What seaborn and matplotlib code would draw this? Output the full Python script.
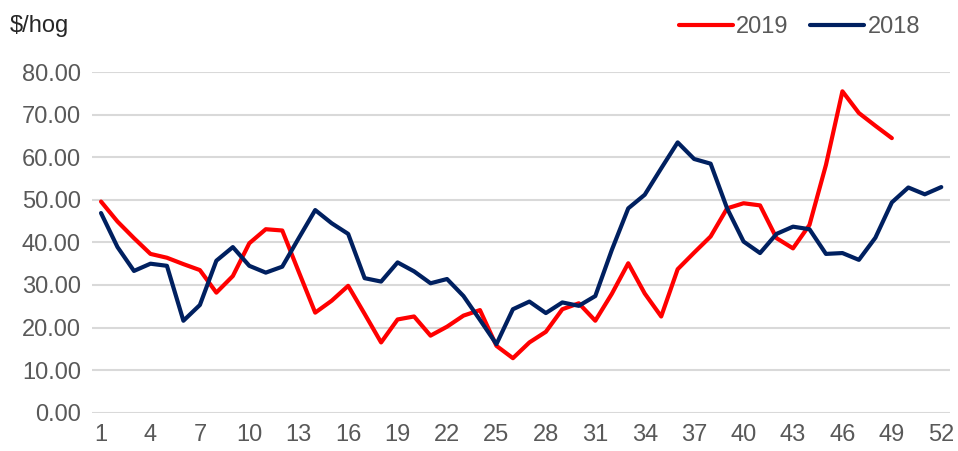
import pandas as pd
import seaborn as sns
import matplotlib.pyplot as plt

weeks = list(range(1, 53))
hog_2019 = [49.6, 44.9, 41.0, 37.3, 36.4, 34.9, 33.5, 28.2, 32.1, 39.8,
            43.1, 42.8, 33.1, 23.5, 26.3, 29.8, 23.2, 16.5, 21.9, 22.6,
            18.1, 20.2, 22.8, 24.1, 15.7, 12.8, 16.5, 19.0, 24.3, 25.7,
            21.6, 27.9, 35.1, 28.0, 22.6, 33.7, 37.6, 41.4, 48.0, 49.2,
            48.7, 41.0, 38.6, 44.1, 58.2, 75.5, 70.4, 67.4, 64.5]
hog_2018 = [46.9, 38.9, 33.3, 35.0, 34.5, 21.6, 25.3, 35.7, 38.9, 34.5,
            32.9, 34.3, 41.0, 47.6, 44.5, 42.0, 31.6, 30.8, 35.3, 33.2,
            30.4, 31.4, 27.4, 21.8, 16.1, 24.3, 26.1, 23.4, 25.9, 25.1,
            27.4, 38.2, 48.0, 51.2, 57.4, 63.5, 59.6, 58.5, 48.0, 40.2,
            37.5, 42.0, 43.7, 43.1, 37.3, 37.5, 35.9, 41.1, 49.4, 52.9,
            51.3, 53.0]
xticks = list(range(1, 53, 3))

df = pd.concat([
    pd.DataFrame({"week": weeks[:len(hog_2019)], "price": hog_2019, "year": "2019"}),
    pd.DataFrame({"week": weeks, "price": hog_2018, "year": "2018"}),
])

sns.set_style("white")
plt.rcParams['font.family'] = ['Liberation Sans', 'DejaVu Sans']

fig = plt.figure(figsize=(9.58, 4.51), dpi=100)
ax = fig.add_axes([0.096, 0.085, 0.896, 0.755])

sns.lineplot(data=df, x="week", y="price", hue="year",
             palette={"2019": "#FF0000", "2018": "#002060"},
             linewidth=3, ax=ax, clip_on=False)

ax.set_xlim(0.45, 52.55)
ax.set_ylim(0, 80)
ax.set_yticks(range(0, 81, 10))
ax.set_yticklabels([f"{v:.2f}" for v in range(0, 81, 10)])
ax.set_xticks(xticks)
ax.grid(axis="y", color="#D9D9D9", linewidth=1.5)
ax.set_axisbelow(True)
for s in ax.spines.values():
    s.set_visible(False)
ax.tick_params(axis="both", length=0, labelsize=17, colors="#595959", pad=8)
ax.set_xlabel("")
ax.set_ylabel("")

ax.legend(loc="center right", bbox_to_anchor=(0.983, 0.94),
          bbox_transform=fig.transFigure, ncol=2, frameon=False,
          fontsize=17, handlelength=2.3, handletextpad=0.15,
          columnspacing=0.9, labelcolor="#595959")

fig.text(0.01, 0.942, "$/hog", fontsize=17, color="#262626", va="center")

fig.savefig("out.png", dpi=100)
